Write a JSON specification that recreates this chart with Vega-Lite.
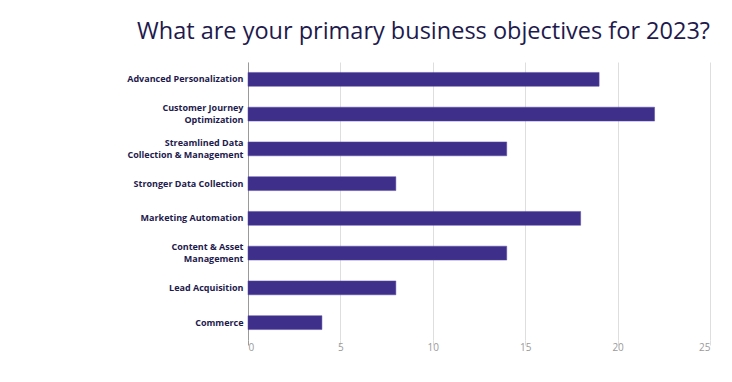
{
  "$schema": "https://vega.github.io/schema/vega-lite/v6.json",
  "width": 462,
  "height": 278,
  "autosize": "none",
  "padding": {"left": 248, "top": 62, "right": 22, "bottom": 42},
  "background": "white",
  "title": {
    "text": "What are your primary business objectives for 2023?",
    "anchor": "end",
    "frame": "group",
    "font": "Open Sans",
    "fontSize": 23.5,
    "fontWeight": 500,
    "color": "#1e1a4d",
    "offset": 19
  },
  "data": {
    "values": [
      {"objective": "Advanced Personalization", "count": 19},
      {"objective": "Customer Journey Optimization", "count": 22},
      {"objective": "Streamlined Data Collection & Management", "count": 14},
      {"objective": "Stronger Data Collection", "count": 8},
      {"objective": "Marketing Automation", "count": 18},
      {"objective": "Content & Asset Management", "count": 14},
      {"objective": "Lead Acquisition", "count": 8},
      {"objective": "Commerce", "count": 4}
    ]
  },
  "mark": {"type": "bar", "color": "#3e2f8a", "stroke": "#5a4aa6", "strokeWidth": 0.5},
  "encoding": {
    "y": {
      "field": "objective",
      "type": "nominal",
      "sort": null,
      "scale": {"paddingInner": 0.6, "paddingOuter": 0.3},
      "axis": {
        "title": null,
        "ticks": false,
        "domain": true,
        "domainColor": "#9a9a9a",
        "labelFont": "Open Sans",
        "labelFontSize": 9,
        "labelFontWeight": "bold",
        "labelColor": "#1e1a4d",
        "labelPadding": 5,
        "labelLimit": 200,
        "labelLineHeight": 12,
        "labelOffset": {"condition": {"test": "indexof(['Customer Journey Optimization', 'Streamlined Data Collection & Management', 'Content & Asset Management'], datum.value) >= 0", "value": -6}, "value": 0},
        "labelExpr": "datum.label == 'Customer Journey Optimization' ? ['Customer Journey', 'Optimization'] : datum.label == 'Streamlined Data Collection & Management' ? ['Streamlined Data', 'Collection & Management'] : datum.label == 'Content & Asset Management' ? ['Content & Asset', 'Management'] : datum.label"
      }
    },
    "x": {
      "field": "count",
      "type": "quantitative",
      "scale": {"domain": [0, 25], "nice": false},
      "axis": {
        "title": null,
        "values": [0, 5, 10, 15, 20, 25],
        "grid": true,
        "gridColor": "#dedede",
        "domain": false,
        "tickColor": {"condition": {"test": "datum.value == 0", "value": "#9a9a9a"}, "value": "#dedede"},
        "tickSize": 5,
        "labelFont": "Open Sans",
        "labelFontSize": 10,
        "labelColor": "#9a9a9a",
        "labelPadding": -3
      }
    }
  },
  "config": {"view": {"stroke": null}}
}
